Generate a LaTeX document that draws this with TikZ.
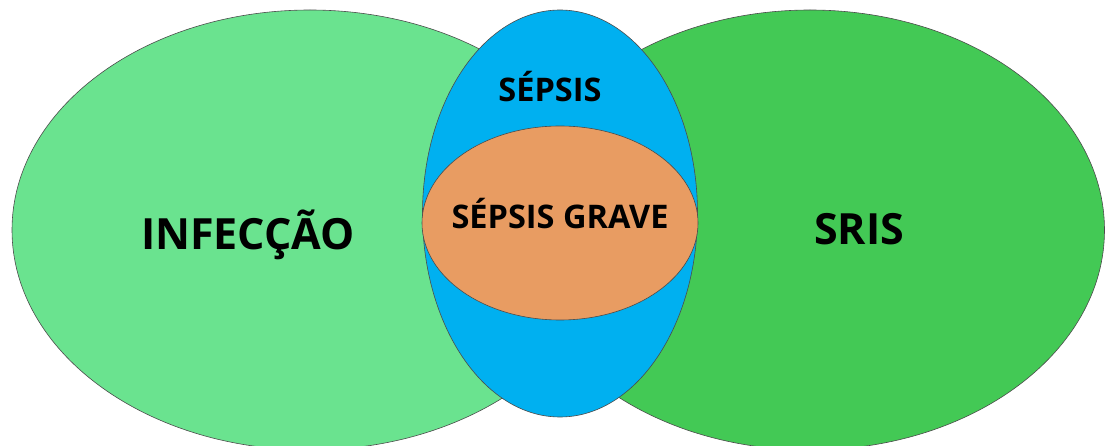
\documentclass[tikz,border=0pt]{standalone}
\usepackage{fontspec}
\setmainfont{Open Sans}
\usetikzlibrary{shapes.geometric}
\definecolor{infgreen}{RGB}{106,227,143}
\definecolor{sirsgreen}{RGB}{67,201,85}
\definecolor{sepblue}{RGB}{0,176,240}
\definecolor{sevorange}{RGB}{232,156,98}
\tikzset{
  blob/.style={ellipse, draw=black!70, line width=0.6pt, inner sep=0pt},
  biglabel/.style={anchor=base, font=\bfseries\fontsize{43}{47}\selectfont, text=black, inner sep=0pt},
  smalllabel/.style={anchor=base, font=\bfseries\fontsize{32.5}{36}\selectfont, text=black, inner sep=0pt}
}
\begin{document}
\begin{tikzpicture}[x=1pt,y=-1pt]
\useasboundingbox (0,0) rectangle (1106,446);
\node[blob, fill=infgreen, minimum width=596pt, minimum height=440pt] (inf) at (310,230) {};
\node[blob, fill=sirsgreen, minimum width=589pt, minimum height=440pt] (sris) at (810,230) {};
\node[blob, fill=sepblue, minimum width=275pt, minimum height=407pt] (sep) at (560,213.5) {};
\node[blob, fill=sevorange, minimum width=276pt, minimum height=194pt] (sev) at (560,223) {};
\node[biglabel] (tinf) at (248,250) {INFECÇÃO};
\node[biglabel] (tsris) at (859,245) {SRIS};
\node[smalllabel] (tsep) at (550,102) {SÉPSIS};
\node[smalllabel] (tsev) at (560,229) {SÉPSIS GRAVE};
\end{tikzpicture}
\end{document}
